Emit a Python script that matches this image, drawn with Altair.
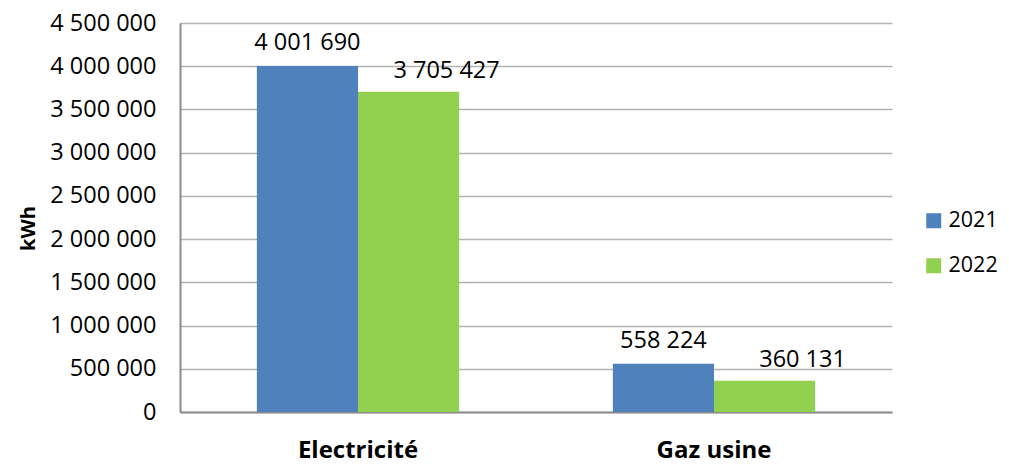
import altair as alt
import pandas as pd

categories = ["Electricité", "Electricité", "Gaz usine", "Gaz usine"]
years = ["2021", "2022", "2021", "2022"]
values = [4001690, 3705427, 558224, 360131]

df = pd.DataFrame({"cat": categories, "year": years, "value": values})

FONT = "Open Sans"
fmt = "replace(format(datum.value, ',d'), regexp(',', 'g'), ' ')"

x = alt.X("cat:N", title=None, sort=["Electricité", "Gaz usine"],
          scale=alt.Scale(paddingInner=0, paddingOuter=0),
          axis=alt.Axis(labelAngle=0, labelFontSize=24, labelFontWeight="bold",
                        labelFont=FONT, labelColor="black", labelPadding=45,
                        labelBaseline="alphabetic",
                        ticks=False, domainColor="#8c8c8c", domainWidth=2))
xo = alt.XOffset("year:N", scale=alt.Scale(paddingInner=0, paddingOuter=0.76))
y = alt.Y("value:Q", title="kWh",
          scale=alt.Scale(domain=[0, 4500000], nice=False),
          axis=alt.Axis(values=list(range(0, 4500001, 500000)),
                        labelExpr=fmt, labelFontSize=23.5, labelFont=FONT,
                        labelColor="black", labelPadding=24, ticks=False,
                        domainColor="#8c8c8c", domainWidth=2,
                        gridColor="#b3b3b3", gridWidth=1.5,
                        titleFont=FONT, titleFontSize=20, titleFontWeight="bold",
                        titleColor="black", titleAngle=-90,
                        titleX=-152, titleY=205, titleAlign="center",
                        titleBaseline="middle"))
color = alt.Color("year:N", title=None,
                  scale=alt.Scale(domain=["2021", "2022"], range=["#4f81bd", "#92d050"]),
                  legend=alt.Legend(orient="none", legendX=743, legendY=187,
                                    padding=0,
                                    symbolType="square", symbolSize=225,
                                    symbolStrokeWidth=0, labelFontSize=21.5,
                                    labelFont=FONT, labelColor="black",
                                    rowPadding=22, labelOffset=4))

base = alt.Chart(df)
bars = base.mark_bar().encode(x=x, xOffset=xo, y=y, color=color)
text21 = base.transform_filter("datum.year == '2021'").transform_calculate(lbl=fmt).mark_text(
    baseline="alphabetic", dy=-16, fontSize=23.5, font=FONT, color="black"
).encode(x=x, xOffset=xo, y=y, text="lbl:N")
text22 = base.transform_filter("datum.year == '2022'").transform_calculate(lbl=fmt).mark_text(
    baseline="alphabetic", dy=-14, dx=38, fontSize=23.5, font=FONT, color="black"
).encode(x=x, xOffset=xo, y=y, text="lbl:N")

chart = (bars + text21 + text22).properties(
    width=712, height=389,
    autosize=alt.AutoSizeParams(type="none"),
    padding={"left": 172, "top": 15, "right": 109, "bottom": 53},
).configure_view(stroke=None)

chart.save("out.html", embed_options={"renderer": "svg", "actions": False})
